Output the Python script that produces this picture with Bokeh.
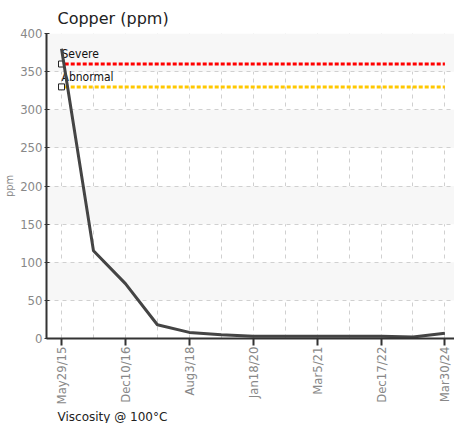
from bokeh.plotting import figure
from bokeh.models import FixedTicker, Range1d, Title
from bokeh.core.properties import value
from bokeh.embed import file_html
from bokeh.resources import INLINE

# data
dates = ["May29/15", "", "Dec10/16", "", "Aug3/18", "", "Jan18/20", "", "Mar5/21", "", "Dec17/22", "", "Mar30/24"]
copper = [380, 115, 72, 18, 8, 5, 3, 3, 3, 3, 3, 2, 7]
limit_names = ["Severe", "Abnormal"]
limit_values = [360, 330]
limit_colors = ["#ff0000", "#ffc800"]
y_ticks = [0, 50, 100, 150, 200, 250, 300, 350, 400]

NARROW = "DejaVu Sans Condensed, Roboto, sans-serif"

n = len(copper)
xs = list(range(n))

p = figure(frame_width=408, frame_height=305, output_backend="svg", toolbar_location=None,
           x_range=Range1d(-0.47, n - 1 + 0.30), y_range=Range1d(0, 400),
           min_border_left=0, min_border_right=0, min_border_top=0, min_border_bottom=0)
p.outline_line_color = None

p.title.text = "Copper (ppm)"
p.title.text_font = "DejaVu Sans"
p.title.text_font_size = "16px"
p.title.text_font_style = "normal"
p.title.text_color = "#222222"
p.title.offset = 11
p.title.standoff = 12

bottom_title = Title(text="Viscosity @ 100°C", text_font="DejaVu Sans", text_font_size="12px",
                     text_font_style="normal", text_color="#222222", offset=11, standoff=0)
p.add_layout(bottom_title, "below")

# grid
p.xgrid.ticker = FixedTicker(ticks=xs)
p.xgrid.grid_line_color = "#d0d0d0"
p.xgrid.grid_line_dash = "4 4"
p.ygrid.ticker = FixedTicker(ticks=y_ticks)
p.ygrid.grid_line_color = "#d0d0d0"
p.ygrid.grid_line_dash = "4 4"
p.ygrid.band_fill_color = "#f7f7f7"
p.ygrid.band_fill_alpha = 1.0

# axes
p.yaxis.ticker = FixedTicker(ticks=y_ticks)
p.yaxis.axis_label = "ppm"
p.yaxis.axis_label_text_font = NARROW
p.yaxis.axis_label_text_font_size = "11px"
p.yaxis.axis_label_text_font_style = "normal"
p.yaxis.axis_label_text_color = "#888888"
p.yaxis.axis_label_standoff = 1
p.yaxis.major_label_text_font = NARROW
p.yaxis.major_label_text_font_size = "13px"
p.yaxis.major_label_text_color = "#888888"
p.yaxis.major_label_standoff = 2
p.yaxis.minor_tick_line_color = None
p.yaxis.major_tick_in = 3
p.yaxis.major_tick_out = 2
p.yaxis.axis_line_color = "#333333"
p.yaxis.axis_line_width = 2
p.yaxis.major_tick_line_color = "#333333"

p.xaxis.ticker = FixedTicker(ticks=xs[::2])
p.xaxis.major_label_overrides = {i: d for i, d in enumerate(dates) if d}
p.xaxis.major_label_orientation = 1.5708
p.xaxis.major_label_text_font = NARROW
p.xaxis.major_label_text_font_size = "13px"
p.xaxis.major_label_text_color = "#888888"
p.xaxis.major_label_standoff = 1
p.xaxis.minor_tick_line_color = None
p.xaxis.major_tick_in = 0
p.xaxis.major_tick_out = 7
p.xaxis.axis_line_color = "#333333"
p.xaxis.axis_line_width = 2
p.xaxis.major_tick_line_color = "#333333"
p.xaxis.major_tick_line_width = 2

# limit lines
for name, v, c in zip(limit_names, limit_values, limit_colors):
    p.line([0.1, n - 1], [v, v], line_color=c, line_width=3, line_dash="4 2")
    p.scatter([0], [v], marker="square", size=6, fill_color="white", line_color="#222222", line_width=1)
    p.text([0], [v], text=[name], text_font=value(NARROW), text_font_size="12px",
           text_color="#111111", text_baseline="bottom", text_align="left", y_offset=-3)

# data line
p.line(xs, copper, line_color="#444444", line_width=3)

open("out.html", "w").write(file_html(p, INLINE))
